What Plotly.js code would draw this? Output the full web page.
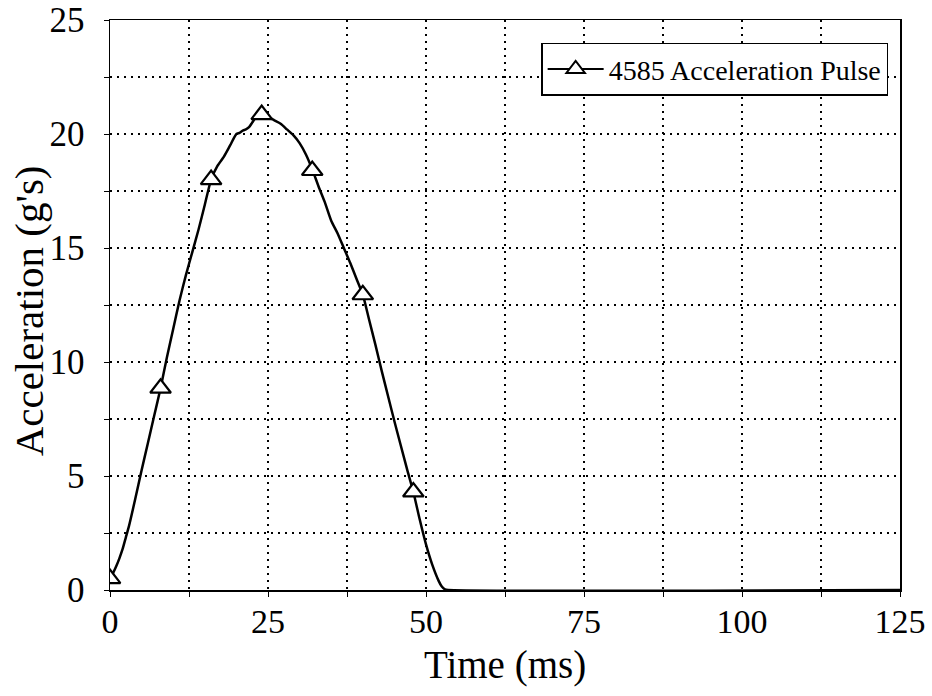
<!DOCTYPE html>
<html>
<head>
<meta charset="utf-8">
<script src="https://cdn.plot.ly/plotly-3.0.1.min.js"></script>
<style>html,body{margin:0;padding:0;background:#fff;}#chart{width:932px;height:696px;}</style>
</head>
<body>
<div id="chart"></div>
<script>
// Continuous acceleration pulse (ms, g's)
const timeMs = [0, 0.5, 1, 1.5, 2, 2.5, 3, 4, 5, 6, 7, 8, 9, 10, 11, 12, 13, 14, 15, 16,
  17, 18, 19, 20, 20.5, 21, 21.5, 22, 22.5, 23, 24, 25, 26, 27, 28, 29, 30, 31, 32,
  33, 34, 35, 36, 37, 38, 39, 40, 41, 42, 43, 44, 45, 46, 47, 48, 49, 50, 51, 52,
  52.5, 53, 53.5, 125];
const accelG = [0.5, 0.75, 1.05, 1.4, 1.8, 2.3, 2.8, 4.0, 5.25, 6.45, 7.65, 8.85, 10.2, 11.45, 12.7, 13.8, 14.8, 15.8, 16.9, 18.0,
  18.6, 19.0, 19.5, 20.0, 20.05, 20.15, 20.2, 20.3, 20.5, 20.7, 20.85, 20.75, 20.6, 20.45, 20.2, 19.95, 19.6, 19.1, 18.45,
  17.7, 17.0, 16.2, 15.65, 15.0, 14.35, 13.65, 12.95, 11.85, 10.75, 9.6, 8.5, 7.4, 6.35, 5.3, 4.3, 3.1, 2.0, 1.1, 0.4,
  0.15, 0.03, 0, 0];

// Marker points (every 8 ms)
const markerTime = [0, 8, 16, 24, 32, 40, 48];
const markerAccel = [0.5, 8.85, 18.0, 20.85, 18.4, 12.95, 4.3];

// Axis ticks
const xTickVals = [0, 12.5, 25, 37.5, 50, 62.5, 75, 87.5, 100, 112.5, 125];
const xTickText = ['0', '', '25', '', '50', '', '75', '', '100', '', '125'];
const yTickVals = [0, 2.5, 5, 7.5, 10, 12.5, 15, 17.5, 20, 22.5, 25];
const yTickText = ['0', '', '5', '', '10', '', '15', '', '20', '', '25'];

const seriesName = '4585 Acceleration Pulse';
const xTitle = 'Time (ms)';
const yTitle = "Acceleration (g's)";

const FONT = 'Liberation Serif';

const traces = [
  {
    x: timeMs, y: accelG, type: 'scatter', mode: 'lines',
    line: {color: '#000', width: 2.5, shape: 'spline', smoothing: 0.6},
    showlegend: false, hoverinfo: 'x+y'
  },
  {
    x: markerTime, y: markerAccel, type: 'scatter', mode: 'markers',
    marker: {symbol: 'triangle-up', size: 18, color: '#fff', line: {color: '#000', width: 2.2}},
    showlegend: false
  },
  {
    x: [null], y: [null], type: 'scatter', mode: 'lines+markers', name: seriesName,
    line: {color: '#000', width: 2},
    marker: {symbol: 'triangle-up', size: 18, color: '#fff', line: {color: '#000', width: 2}}
  }
];

const axisCommon = {
  showgrid: true, gridcolor: '#000', gridwidth: 1.2, griddash: '2px,5px',
  zeroline: false, showline: true, linecolor: '#000', linewidth: 1.5, mirror: true,
  ticks: 'outside', ticklen: 5, tickcolor: '#000', tickwidth: 1,
  tickfont: {family: FONT, size: 35, color: '#000'},
  tickmode: 'array', ticklabeloverflow: 'allow'
};

const layout = {
  width: 932, height: 696,
  margin: {l: 110, r: 32, t: 20, b: 106},
  paper_bgcolor: '#fff', plot_bgcolor: '#fff',
  font: {family: FONT, color: '#000'},
  xaxis: Object.assign({}, axisCommon, {
    range: [0, 125], tickvals: xTickVals, ticktext: xTickText, ticklabelstandoff: -4,
    tickfont: {family: FONT, size: 34, color: '#000'}
  }),
  yaxis: Object.assign({}, axisCommon, {
    range: [0, 25], tickvals: yTickVals, ticktext: yTickText, ticklabelstandoff: 12
  }),
  annotations: [
    {text: xTitle, xref: 'paper', yref: 'paper', x: 0.5, y: -0.132,
     xanchor: 'center', yanchor: 'middle', showarrow: false,
     font: {family: FONT, size: 39, color: '#000'}},
    {text: yTitle, xref: 'paper', yref: 'paper', x: -0.103, y: 0.49,
     xanchor: 'center', yanchor: 'middle', showarrow: false, textangle: -90,
     font: {family: FONT, size: 41, color: '#000'}}
  ],
  legend: {
    x: 0.985, xanchor: 'right', y: 0.96, yanchor: 'top',
    bgcolor: '#fff', bordercolor: '#000', borderwidth: 1.5,
    font: {family: FONT, size: 28, color: '#000'},
    itemwidth: 56
  }
};

Plotly.newPlot('chart', traces, layout, {displayModeBar: false, staticPlot: true});
</script>
</body>
</html>
